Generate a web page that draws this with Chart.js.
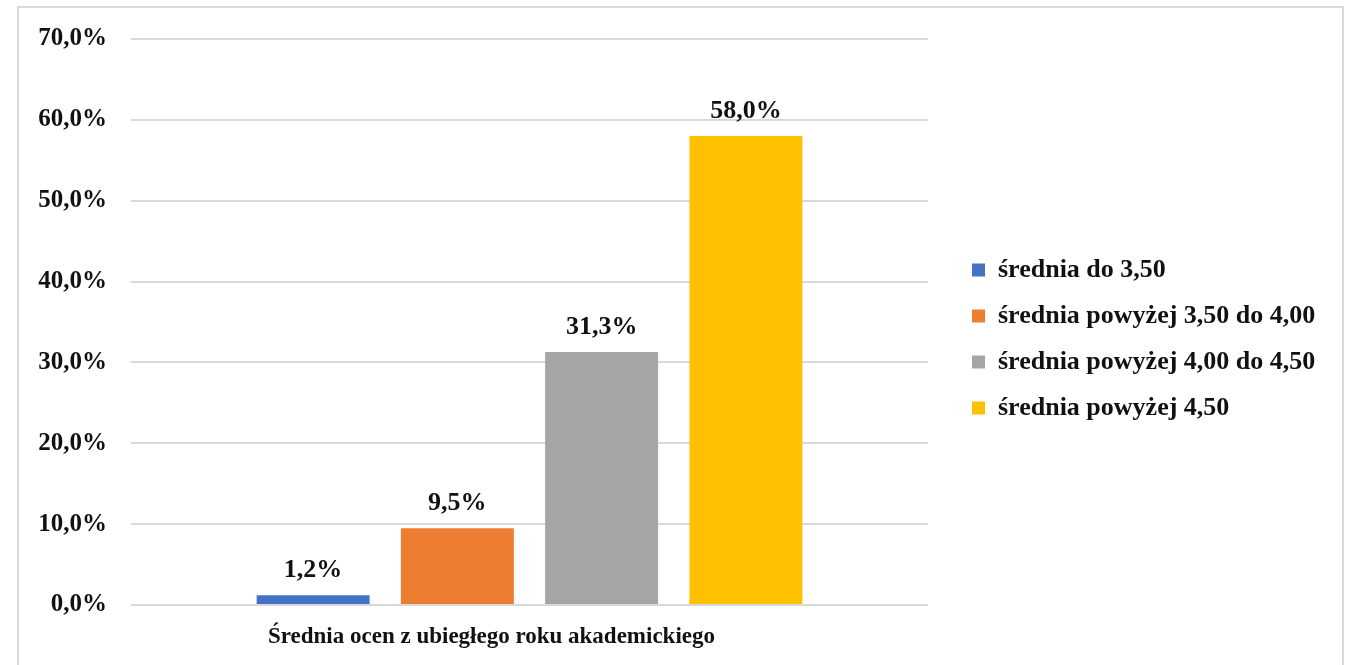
<!DOCTYPE html>
<html>
<head>
<meta charset="utf-8">
<script src="https://cdn.jsdelivr.net/npm/chart.js@4"></script>
<style>
  body { margin: 0; background: #fff; overflow: hidden; }
  #wrap { position: absolute; left: 17px; top: 6px; width: 1323px; height: 680px; border: 2px solid #d9d9d9; background: #fff; }
</style>
</head>
<body>
<div id="wrap"><canvas id="gradesChart" width="1323" height="657"></canvas></div>
<script>
const categories = ["Średnia ocen z ubiegłego roku akademickiego"];
const seriesLabels = [
  "średnia do 3,50",
  "średnia powyżej 3,50 do 4,00",
  "średnia powyżej 4,00 do 4,50",
  "średnia powyżej 4,50"
];
const seriesValues = [1.2, 9.5, 31.3, 58.0];
const seriesColors = ["#4472c4", "#ed7d31", "#a5a5a5", "#ffc000"];

const serif = "'Liberation Serif', 'Times New Roman', serif";
const pct = v => Number(v).toFixed(1).replace(".", ",") + "%";

const barLabels = {
  id: "barLabels",
  afterDatasetsDraw(chart) {
    const ctx = chart.ctx;
    ctx.save();
    ctx.font = "bold 26px " + serif;
    ctx.fillStyle = "#111";
    ctx.textAlign = "center";
    ctx.textBaseline = "middle";
    chart.data.datasets.forEach((ds, i) => {
      chart.getDatasetMeta(i).data.forEach((bar, j) => {
        ctx.fillText(pct(ds.data[j]), bar.x, bar.y - 25);
      });
    });
    ctx.restore();
  }
};

// fixed legend width so the plot ends where the reference does, then move it
const legendPlace = {
  id: "legendPlace",
  beforeLayout(chart) {
    const lg = chart.legend;
    if (lg && !lg._fixedW) {
      const fit = lg.fit;
      lg.fit = function () {
        fit.call(this);
        this.width = 1323 - 909;
      };
      lg._fixedW = true;
    }
  },
  afterLayout(chart) {
    const lg = chart.legend;
    const pad = lg.options.labels.padding;
    const dx = 953 - (lg.left + pad);
    lg.left += dx;
    lg.right += dx;
    const colH = lg.columnSizes[0].height;
    const y0 = (lg.top + pad + lg.bottom - colH) / 2;
    const dy = 262 - 13 - y0;
    lg.top += dy;
    lg.bottom += dy;
  }
};

new Chart(document.getElementById("gradesChart"), {
  type: "bar",
  data: {
    labels: categories,
    datasets: seriesLabels.map((label, i) => ({
      label: label,
      data: [seriesValues[i]],
      backgroundColor: seriesColors[i],
      categoryPercentage: 0.724,
      barPercentage: 0.783
    }))
  },
  options: {
    responsive: false,
    animation: false,
    layout: { padding: { top: 31, right: 0, bottom: 0, left: 0 } },
    plugins: {
      legend: {
        position: "right",
        labels: {
          boxWidth: 13,
          boxHeight: 13,
          padding: 20,
          color: "#111",
          font: { family: serif, size: 26, weight: "bold" }
        }
      },
      tooltip: { enabled: false }
    },
    scales: {
      x: {
        afterFit(scale) { scale.height = 60; },
        grid: { display: false, drawTicks: false },
        border: { display: false },
        ticks: { padding: 18, labelOffset: -38, color: "#111", font: { family: serif, size: 23, weight: "bold" } }
      },
      y: {
        min: 0,
        max: 70,
        afterFit(scale) {
          scale.width = 112;
          scale.paddingTop = 0;
          scale.paddingBottom = 0;
        },
        grid: { color: "#d9d9d9", lineWidth: 2, drawTicks: false },
        border: { display: false },
        ticks: {
          stepSize: 10,
          padding: 24,
          color: "#111",
          font: { family: serif, size: 25, weight: "bold" },
          callback: v => pct(v)
        }
      }
    }
  },
  plugins: [barLabels, legendPlace]
});
</script>
</body>
</html>
